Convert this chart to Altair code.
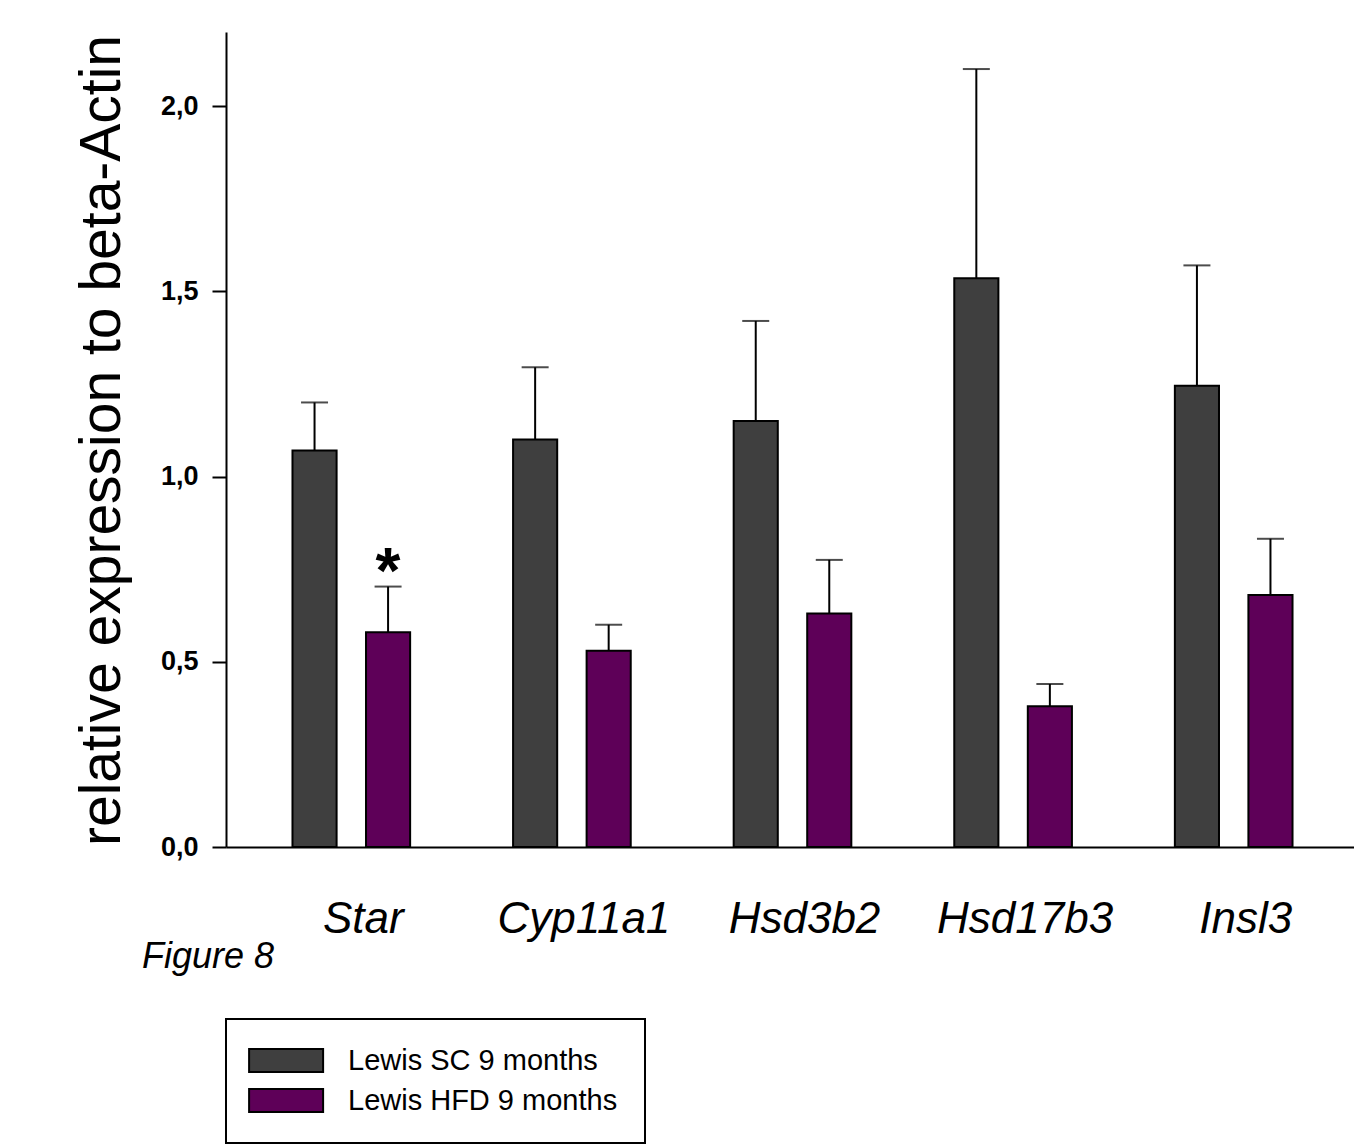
import altair as alt
import pandas as pd

# Gene expression relative to beta-Actin, two diet groups (mean and mean + SEM)
genes = ["Star", "Cyp11a1", "Hsd3b2", "Hsd17b3", "Insl3"]
groups = ["Lewis SC 9 months", "Lewis HFD 9 months"]
sc_mean = [1.07, 1.10, 1.15, 1.535, 1.245]
sc_upper = [1.20, 1.295, 1.42, 2.10, 1.57]
hfd_mean = [0.58, 0.53, 0.63, 0.38, 0.68]
hfd_upper = [0.703, 0.60, 0.775, 0.44, 0.832]
sc_marks = ["", "", "", "", ""]
hfd_marks = ["*", "", "", "", ""]
colors = ["#3f3f3f", "#5e0058"]

rows = []
for grp, means, uppers, marks in [
    (groups[0], sc_mean, sc_upper, sc_marks),
    (groups[1], hfd_mean, hfd_upper, hfd_marks),
]:
    for g, m, u, s in zip(genes, means, uppers, marks):
        rows.append({"gene": g, "group": grp, "mean": m, "upper": u, "marker": s})
df = pd.DataFrame(rows)

FONT = "Liberation Sans"

x_enc = alt.X(
    "gene:N",
    sort=genes,
    scale=alt.Scale(paddingInner=0, paddingOuter=0.0567, align=0.6),
    axis=alt.Axis(
        title=None,
        labelFontSize=44,
        labelFontStyle="italic",
        labelFont=FONT,
        labelColor="black",
        labelAngle=0,
        ticks=False,
        labelPadding=50,
        labelOffset=12,
        labelLimit=400,
        domainColor="black",
        domainWidth=2,
        grid=False,
    ),
)
xoff_enc = alt.XOffset(
    "group:N", sort=groups, scale=alt.Scale(paddingInner=0.4, paddingOuter=0.7)
)
y_scale = alt.Scale(domain=[0, 2.2], nice=False)

bars = alt.Chart(df).mark_bar(stroke="black", strokeWidth=2).encode(
    x=x_enc,
    xOffset=xoff_enc,
    y=alt.Y(
        "mean:Q",
        scale=y_scale,
        axis=alt.Axis(
            values=[0, 0.5, 1.0, 1.5, 2.0],
            labelExpr="replace(format(datum.value, '.1f'), '.', ',')",
            tickSize=14,
            tickWidth=2,
            tickColor="black",
            labelPadding=14,
            labelFontSize=27,
            labelFontWeight="bold",
            labelFont=FONT,
            labelColor="black",
            title="relative expression to beta-Actin",
            titleFont=FONT,
            titleFontSize=57,
            titleFontWeight="normal",
            titleColor="black",
            titleAngle=270,
            titleAlign="center",
            titleBaseline="alphabetic",
            titleX=-107,
            titleY=408,
            domainColor="black",
            domainWidth=2,
            grid=False,
        ),
    ),
    color=alt.Color(
        "group:N",
        sort=groups,
        scale=alt.Scale(domain=groups, range=colors),
        legend=alt.Legend(
            title=None,
            orient="none",
            legendX=0,
            legendY=987,
            direction="vertical",
            labelFont=FONT,
            labelFontSize=29,
            labelColor="black",
            labelOffset=66,
            labelLimit=500,
            symbolType="M-1.6,-1L4.835,-1L4.835,1L-1.6,1Z",
            symbolSize=529,
            symbolStrokeColor="black",
            symbolStrokeWidth=2,
            symbolOpacity=1,
            rowPadding=9,
            padding=27,
            strokeColor="black",
            fillColor="white",
        ),
    ),
)

whiskers = alt.Chart(df).mark_rule(color="black", strokeWidth=2).encode(
    x=x_enc, xOffset=xoff_enc, y=alt.Y("mean:Q", scale=y_scale), y2="upper:Q"
)

caps = alt.Chart(df).mark_tick(color="black", thickness=2, size=27).encode(
    x=x_enc, xOffset=xoff_enc, y=alt.Y("upper:Q", scale=y_scale)
)

stars = alt.Chart(df).mark_text(
    font=FONT, fontSize=64, fontWeight="bold", color="black",
    baseline="alphabetic", align="center", dy=6,
).encode(
    x=x_enc, xOffset=xoff_enc, y=alt.Y("upper:Q", scale=y_scale), text="marker:N"
)

figure_note = alt.Chart(pd.DataFrame({"note": ["Figure 8"]})).mark_text(
    font=FONT, fontSize=36, fontStyle="italic", color="black",
    align="left", baseline="alphabetic",
).encode(x=alt.value(-84), y=alt.value(936), text="note:N")

chart = (
    alt.layer(bars, whiskers, caps, stars, figure_note)
    .properties(
        width=1128,
        height=815,
        padding={"left": 226, "top": 32, "right": 0, "bottom": 298},
        autosize=alt.AutoSizeParams(type="none"),
    )
    .configure_view(stroke=None)
    .configure_legend(strokeWidth=2)
)

chart.save("out.html", embed_options={"renderer": "svg", "actions": False})
